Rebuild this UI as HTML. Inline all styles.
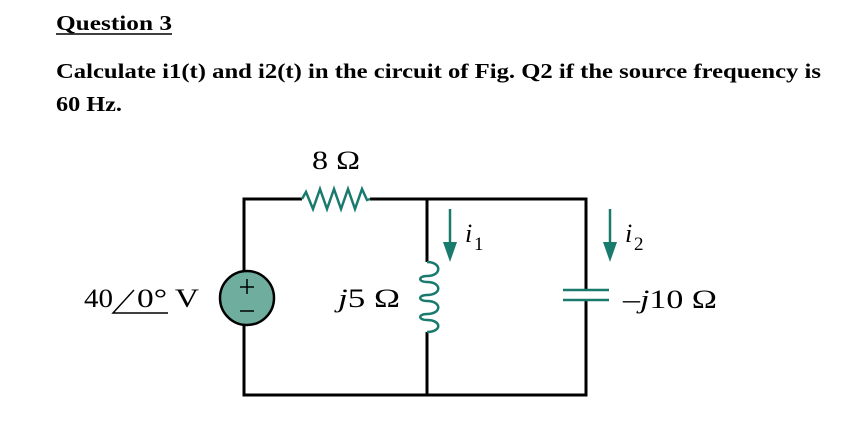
<!DOCTYPE html>
<html><head><meta charset="utf-8"><style>
html,body{margin:0;padding:0;background:#fff;}
svg{display:block;}
</style></head><body>
<svg width="845" height="442" viewBox="0 0 845 442" xmlns="http://www.w3.org/2000/svg">
<g font-family="'Liberation Serif', serif" font-weight="bold" font-size="21" fill="#000">
<text x="56" y="30" textLength="116" lengthAdjust="spacingAndGlyphs">Question 3</text>
<line x1="56" y1="34" x2="172" y2="34" stroke="#000" stroke-width="1.5"/>
<text x="56" y="78" textLength="765" lengthAdjust="spacingAndGlyphs">Calculate i1(t) and i2(t) in the circuit of Fig. Q2 if the source frequency is</text>
<text x="56" y="111" textLength="66" lengthAdjust="spacingAndGlyphs">60 Hz.</text>
</g>
<g stroke="#000" stroke-width="3" fill="none">
<polyline points="302,199 244,199 244,271"/>
<polyline points="244,325 244,395 586,395 586,300"/>
<polyline points="586,290 586,199 370,199"/>
<line x1="427" y1="199" x2="427" y2="262"/>
<line x1="427" y1="332" x2="427" y2="395"/>
</g>
<g stroke="#1a7a6e" stroke-width="2.5" fill="none">
<polyline points="302,199 306,192 313,209 320,189 327,209 334,189 341,209 348,189 355,209 362,189 367,200 370,199"/>
<path d="M427,262 C442,262 442,276 427,276 C418,276 418,282 427,282 C442,282 442,295 427,295 C418,295 418,301 427,301 C442,301 442,314 427,314 C418,314 418,320 427,320 C442,320 442,332 427,332"/>
<line x1="563" y1="290" x2="609" y2="290"/>
<line x1="563" y1="300" x2="609" y2="300"/>
<line x1="450" y1="209" x2="450" y2="245"/>
<line x1="610" y1="209" x2="610" y2="245"/>
</g>
<polygon points="443,242 457,242 450,262" fill="#1a7a6e"/>
<polygon points="603,242 617,242 610,262" fill="#1a7a6e"/>
<circle cx="247" cy="298" r="27" fill="#6fae9f" stroke="#000" stroke-width="2.5"/>
<g stroke="#000" stroke-width="1.5">
<line x1="247" y1="279" x2="247" y2="294"/><line x1="240" y1="287" x2="254" y2="287"/>
<line x1="240" y1="311" x2="254" y2="311"/>
</g>
<g font-family="'Liberation Serif', serif" font-size="26" fill="#000">
<text x="312" y="169" textLength="48" lengthAdjust="spacingAndGlyphs">8 Ω</text>
<text x="84" y="307" textLength="29" lengthAdjust="spacingAndGlyphs">40</text>
<text x="137" y="307" textLength="62" lengthAdjust="spacingAndGlyphs">0° V</text>
<text x="338" y="307" textLength="62" lengthAdjust="spacingAndGlyphs"><tspan font-style="italic">j</tspan>5 Ω</text>
<text x="623" y="308" textLength="94" lengthAdjust="spacingAndGlyphs">–<tspan font-style="italic">j</tspan>10 Ω</text>
<text x="465" y="242" font-style="italic">i</text><text x="474" y="250" font-size="19">1</text>
<text x="625" y="242" font-style="italic">i</text><text x="634" y="250" font-size="19">2</text>
</g>
<polyline points="134,290 113,313 168,313" stroke="#000" stroke-width="1.5" fill="none"/>
</svg>
</body></html>
